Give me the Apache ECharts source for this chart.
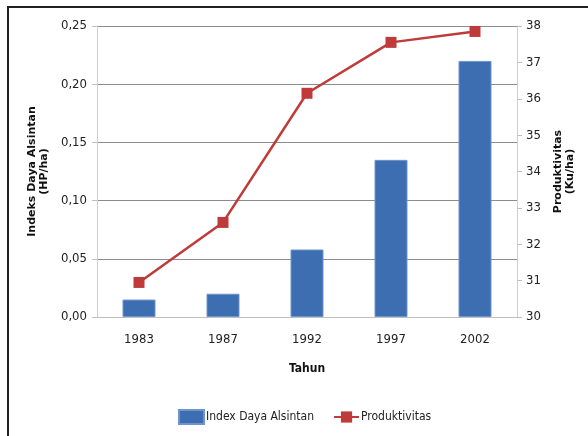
<!DOCTYPE html>
<html>
<head>
<meta charset="utf-8">
<script src="https://cdn.jsdelivr.net/npm/echarts@6/dist/echarts.min.js"></script>
<style>
  html, body { margin: 0; padding: 0; background: #fff; }
  #frame { position: absolute; left: 7px; top: 6px; width: 590px; height: 440px; border: 2px solid #222; box-sizing: border-box; }
  #chart { position: absolute; left: 0; top: 0; width: 588px; height: 436px; }
</style>
</head>
<body>
<div id="frame"></div>
<div id="chart"></div>
<script>
var years = ['1983', '1987', '1992', '1997', '2002'];
var indexDaya = [0.015, 0.020, 0.058, 0.135, 0.220];
var produktivitas = [30.95, 32.6, 36.15, 37.55, 37.85];

var font = '"DejaVu Sans Condensed", "Liberation Sans Narrow", sans-serif';

var chart = echarts.init(document.getElementById('chart'));
chart.setOption({
    animation: false,
    textStyle: { fontFamily: font },
    grid: { left: 97, right: 71, top: 26, bottom: 119 },
    legend: {
        top: 404,
        left: 173,
        itemGap: 19,
        textStyle: { fontFamily: font, fontSize: 12, color: '#222', padding: [0, 0, 0, -3] },
        data: [
            { name: 'Index Daya Alsintan', icon: 'rect', itemWidth: 26, itemHeight: 9 },
            { name: 'Produktivitas', itemWidth: 27 }
        ]
    },
    xAxis: {
        type: 'category',
        data: years,
        name: 'Tahun',
        nameLocation: 'middle',
        nameGap: 46,
        nameTextStyle: { fontFamily: font, fontWeight: 'bold', fontSize: 12, color: '#111' },
        axisLine: { lineStyle: { color: '#bfbfbf' } },
        axisTick: { alignWithLabel: false, length: 5, lineStyle: { color: '#bfbfbf' } },
        axisLabel: { color: '#222', fontSize: 13, margin: 16 }
    },
    yAxis: [
        {
            type: 'value',
            min: 0, max: 0.25, interval: 0.05,
            name: 'Indeks Daya Alsintan\n(HP/ha)',
            nameLocation: 'middle',
            nameGap: 32,
            nameRotate: 90,
            nameTextStyle: { fontFamily: 'DejaVu Sans', fontWeight: 'bold', fontSize: 11, color: '#111', lineHeight: 12 },
            axisLine: { show: true, lineStyle: { color: '#cfcfcf' } },
            axisTick: { show: true, length: 5, lineStyle: { color: '#bfbfbf' } },
            axisLabel: { color: '#222', fontSize: 13, margin: 10, formatter: function (v) { return v.toFixed(2).replace('.', ','); } },
            splitLine: { lineStyle: { color: '#8c8c8c' } }
        },
        {
            type: 'value',
            min: 30, max: 38, interval: 1,
            name: 'Produktivitas\n(Ku/ha)',
            nameLocation: 'middle',
            nameGap: 32,
            nameRotate: 90,
            nameTextStyle: { fontFamily: 'DejaVu Sans', fontWeight: 'bold', fontSize: 11, color: '#111', lineHeight: 12 },
            axisLine: { show: true, lineStyle: { color: '#cfcfcf' } },
            axisTick: { show: true, length: 5, lineStyle: { color: '#bfbfbf' } },
            axisLabel: { color: '#222', fontSize: 13, margin: 9 },
            splitLine: { show: false }
        }
    ],
    series: [
        {
            name: 'Index Daya Alsintan',
            type: 'bar',
            data: indexDaya,
            barWidth: 33,
            itemStyle: { color: '#3d6eb2', borderColor: '#6f95cc', borderWidth: 1 }
        },
        {
            name: 'Produktivitas',
            type: 'line',
            yAxisIndex: 1,
            data: produktivitas,
            symbol: 'rect',
            symbolSize: 11,
            lineStyle: { color: '#be3b3a', width: 2.5 },
            itemStyle: { color: '#be3b3a' }
        }
    ]
});
</script>
</body>
</html>
